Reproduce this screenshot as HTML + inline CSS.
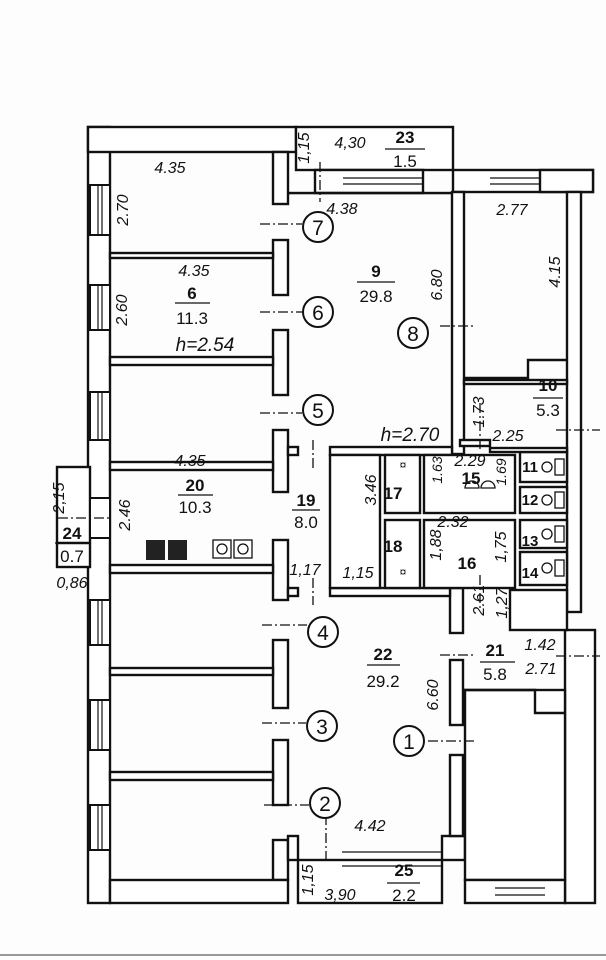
<!DOCTYPE html>
<html><head><meta charset="utf-8"><style>
html,body{margin:0;padding:0;background:#fff}
svg{display:block}
text{font-family:"Liberation Sans",sans-serif;fill:#111}
.i{font-style:italic;font-size:16px}
.b{font-size:17px;font-weight:bold}
.n{font-size:17px}
</style></head><body>
<svg width="606" height="960" viewBox="0 0 606 960" xmlns="http://www.w3.org/2000/svg">
<rect width="606" height="960" fill="#fdfdfd"/>
<g fill="#fff" stroke="#111" stroke-width="2.4">
<rect x="88" y="127" width="22" height="776"/>
<rect x="88" y="127" width="208" height="25"/>
<rect x="296" y="127" width="157" height="43"/>
<rect x="315" y="170" width="108" height="23"/>
<rect x="287" y="193" width="165" height="0.1"/>
<rect x="453" y="170" width="140" height="22"/>
<rect x="540" y="170" width="53" height="22"/>
<rect x="567" y="192" width="14" height="420"/>
<rect x="565" y="630" width="30" height="273"/>
<rect x="452" y="192" width="12" height="262"/>
<rect x="273" y="152" width="15" height="52"/>
<rect x="273" y="240" width="15" height="55"/>
<rect x="273" y="330" width="15" height="65"/>
<rect x="273" y="430" width="15" height="62"/>
<rect x="273" y="540" width="15" height="60"/>
<rect x="273" y="640" width="15" height="68"/>
<rect x="273" y="740" width="15" height="65"/>
<rect x="273" y="840" width="15" height="40"/>
<rect x="288" y="836" width="10" height="24"/>
<rect x="442" y="836" width="23" height="24"/>
<rect x="298" y="860" width="144" height="43"/>
<rect x="450" y="588" width="13" height="45"/>
<rect x="450" y="660" width="13" height="65"/>
<rect x="450" y="755" width="13" height="81"/>
<rect x="465" y="690" width="100" height="190"/>
<rect x="465" y="880" width="100" height="23"/>
<rect x="110" y="253" width="163" height="5"/>
<rect x="110" y="357" width="163" height="8"/>
<rect x="110" y="462" width="163" height="8"/>
<rect x="110" y="565" width="163" height="8"/>
<rect x="110" y="668" width="163" height="7"/>
<rect x="110" y="772" width="163" height="8"/>
<rect x="110" y="880" width="178" height="23"/>
<rect x="57" y="467" width="33" height="100"/>
<line x1="57" y1="543" x2="90" y2="543"/>
<rect x="288" y="447" width="10" height="8"/>
<rect x="330" y="447" width="122" height="8"/>
<rect x="288" y="588" width="10" height="8"/>
<rect x="330" y="588" width="120" height="8"/>
<rect x="330" y="455" width="50" height="133"/>
<rect x="385" y="455" width="35" height="58"/>
<rect x="385" y="520" width="35" height="68"/>
<rect x="424" y="455" width="91" height="58"/>
<rect x="424" y="520" width="91" height="68"/>
<rect x="520" y="452" width="47" height="30"/>
<rect x="520" y="487" width="47" height="26"/>
<rect x="520" y="520" width="47" height="28"/>
<rect x="520" y="552" width="47" height="33"/>
<rect x="464" y="380" width="103" height="4"/>
<polyline points="464,378 528,378 528,360 567,360" fill="none"/>
<polyline points="464,690 535,690 535,713 565,713" fill="none"/>
<rect x="510" y="590" width="57" height="40"/>
<rect x="460" y="440" width="30" height="6"/>
<rect x="490" y="448" width="77" height="4"/>
</g>
<g stroke="#111" stroke-width="1.3">
<line x1="343" y1="178" x2="423" y2="178"/><line x1="343" y1="184" x2="423" y2="184"/>
<line x1="490" y1="178" x2="540" y2="178"/><line x1="490" y1="184" x2="540" y2="184"/>
<line x1="342" y1="866" x2="442" y2="866"/><line x1="342" y1="852" x2="442" y2="852"/>
<line x1="495" y1="888" x2="545" y2="888"/><line x1="495" y1="895" x2="545" y2="895"/>
</g>
<g fill="#fff" stroke="#111" stroke-width="2">
<rect x="90" y="185" width="20" height="50"/>
<rect x="90" y="285" width="20" height="45"/>
<rect x="90" y="392" width="20" height="48"/>
<rect x="90" y="498" width="20" height="40"/>
<rect x="90" y="600" width="20" height="45"/>
<rect x="90" y="700" width="20" height="50"/>
<rect x="90" y="805" width="20" height="45"/>
</g>
<g stroke="#111" stroke-width="1.2">
<line x1="98" y1="185" x2="98" y2="235"/><line x1="102" y1="185" x2="102" y2="235"/>
<line x1="98" y1="285" x2="98" y2="330"/><line x1="102" y1="285" x2="102" y2="330"/>
<line x1="98" y1="392" x2="98" y2="440"/><line x1="102" y1="392" x2="102" y2="440"/>
<line x1="98" y1="600" x2="98" y2="645"/><line x1="102" y1="600" x2="102" y2="645"/>
<line x1="98" y1="700" x2="98" y2="750"/><line x1="102" y1="700" x2="102" y2="750"/>
<line x1="98" y1="805" x2="98" y2="850"/><line x1="102" y1="805" x2="102" y2="850"/>
</g>
<g stroke="#111" stroke-width="1.3" stroke-dasharray="10,3,2,3" fill="none">
<line x1="260" y1="224" x2="302" y2="224"/>
<line x1="260" y1="312" x2="302" y2="312"/>
<line x1="260" y1="413" x2="302" y2="413"/>
<line x1="262" y1="625" x2="307" y2="625"/>
<line x1="262" y1="723" x2="306" y2="723"/>
<line x1="264" y1="805" x2="309" y2="805"/>
<line x1="428" y1="741" x2="475" y2="741"/>
<line x1="440" y1="326" x2="475" y2="326"/>
<line x1="320" y1="162" x2="320" y2="202"/>
<line x1="313" y1="440" x2="313" y2="470"/>
<line x1="313" y1="578" x2="313" y2="605"/>
<line x1="326" y1="815" x2="326" y2="860"/>
<line x1="480" y1="403" x2="480" y2="450"/>
<line x1="480" y1="575" x2="480" y2="610"/>
<line x1="440" y1="655" x2="475" y2="655"/>
<line x1="556" y1="430" x2="600" y2="430"/>
<line x1="556" y1="656" x2="600" y2="656"/>
<line x1="58" y1="518" x2="110" y2="518"/>
</g>
<g fill="#fff" stroke="#111" stroke-width="2">
<circle cx="318" cy="227" r="15"/><circle cx="318" cy="312" r="15"/><circle cx="318" cy="410" r="15"/>
<circle cx="413" cy="333" r="15"/><circle cx="323" cy="632" r="15"/><circle cx="322" cy="726" r="15"/>
<circle cx="325" cy="803" r="15"/><circle cx="409" cy="741" r="15"/>
</g>
<g text-anchor="middle" style="font-size:21px">
<text x="318" y="235">7</text><text x="318" y="320">6</text>
<text x="318" y="418">5</text><text x="413" y="341">8</text>
<text x="323" y="640">4</text><text x="322" y="734">3</text>
<text x="325" y="811">2</text><text x="409" y="749">1</text>
</g>
<rect x="146" y="540" width="19" height="20" fill="#222"/><rect x="168" y="540" width="19" height="20" fill="#222"/>
<g fill="#fff" stroke="#111" stroke-width="1.3"><rect x="213" y="540" width="18" height="18"/><rect x="234" y="540" width="18" height="18"/>
<circle cx="222" cy="549" r="5"/><circle cx="243" cy="549" r="5"/>
<path d="M465,488 a7,7 0 0 1 14,0 z"/><path d="M481,488 a7,7 0 0 1 14,0 z"/>
<circle cx="547" cy="467" r="5"/><circle cx="547" cy="500" r="5"/><circle cx="547" cy="534" r="5"/><circle cx="547" cy="568" r="5"/>
<rect x="555" y="459" width="9" height="16"/><rect x="555" y="492" width="9" height="16"/><rect x="555" y="526" width="9" height="16"/><rect x="555" y="560" width="9" height="16"/>
</g>
<text x="403" y="469" font-size="12" text-anchor="middle">¤</text>
<text x="403" y="576" font-size="12" text-anchor="middle">¤</text>
<g stroke="#111" stroke-width="1.3">
<line x1="175" y1="303" x2="210" y2="303"/><line x1="385" y1="149" x2="425" y2="149"/>
<line x1="357" y1="282" x2="395" y2="282"/><line x1="533" y1="398" x2="563" y2="398"/>
<line x1="178" y1="495" x2="213" y2="495"/><line x1="292" y1="510" x2="320" y2="510"/>
<line x1="55" y1="543" x2="90" y2="543"/><line x1="367" y1="665" x2="400" y2="665"/>
<line x1="480" y1="662" x2="515" y2="662"/><line x1="387" y1="883" x2="420" y2="883"/>
</g>
<g class="i" text-anchor="middle">
<text x="170" y="173">4.35</text>
<text x="194" y="276">4.35</text>
<text x="205" y="351" style="font-size:19px">h=2.54</text>
<text x="350" y="148">4,30</text>
<text x="342" y="214">4.38</text>
<text x="410" y="441" style="font-size:19px">h=2.70</text>
<text x="512" y="215">2.77</text>
<text x="508" y="441">2.25</text>
<text x="470" y="466">2.29</text>
<text x="453" y="527">2.32</text>
<text x="305" y="575">1,17</text>
<text x="358" y="578">1,15</text>
<text x="190" y="466">4.35</text>
<text x="72" y="588">0,86</text>
<text x="540" y="650">1.42</text>
<text x="541" y="674">2.71</text>
<text x="370" y="831">4.42</text>
<text x="340" y="900">3,90</text>
<text transform="translate(128,210) rotate(-90)">2.70</text>
<text transform="translate(127,310) rotate(-90)">2.60</text>
<text transform="translate(309,148) rotate(-90)">1,15</text>
<text transform="translate(442,285) rotate(-90)">6.80</text>
<text transform="translate(560,272) rotate(-90)">4.15</text>
<text transform="translate(484,412) rotate(-90)">1.73</text>
<text transform="translate(442,470) rotate(-90)" style="font-size:14px">1.63</text>
<text transform="translate(506,472) rotate(-90)" style="font-size:14px">1.69</text>
<text transform="translate(376,490) rotate(-90)">3.46</text>
<text transform="translate(441,545) rotate(-90)">1,88</text>
<text transform="translate(506,547) rotate(-90)">1,75</text>
<text transform="translate(484,600) rotate(-90)">2.61</text>
<text transform="translate(507,603) rotate(-90)">1,27</text>
<text transform="translate(438,695) rotate(-90)">6.60</text>
<text transform="translate(313,880) rotate(-90)">1,15</text>
<text transform="translate(130,515) rotate(-90)">2.46</text>
<text transform="translate(64,498) rotate(-90)">2,15</text>
</g>
<g class="n" text-anchor="middle">
<text x="192" y="299" class="b">6</text><text x="192" y="324">11.3</text>
<text x="405" y="143" class="b">23</text><text x="405" y="167">1.5</text>
<text x="376" y="277" class="b">9</text><text x="376" y="302">29.8</text>
<text x="548" y="391" class="b">10</text><text x="548" y="416">5.3</text>
<text x="471" y="484" class="b">15</text>
<text x="393" y="499" class="b">17</text><text x="393" y="552" class="b">18</text>
<text x="467" y="569" class="b">16</text>
<text x="306" y="506" class="b">19</text><text x="306" y="528">8.0</text>
<text x="195" y="491" class="b">20</text><text x="195" y="513">10.3</text>
<text x="72" y="539" class="b">24</text><text x="72" y="562">0.7</text>
<text x="383" y="660" class="b">22</text><text x="383" y="687">29.2</text>
<text x="495" y="656" class="b">21</text><text x="495" y="680">5.8</text>
<text x="404" y="876" class="b">25</text><text x="404" y="901">2.2</text>
<text x="530" y="472" class="b" style="font-size:15px">11</text><text x="530" y="505" class="b" style="font-size:15px">12</text>
<text x="530" y="546" class="b" style="font-size:15px">13</text><text x="530" y="578" class="b" style="font-size:15px">14</text>
</g>
<line x1="0" y1="955" x2="606" y2="955" stroke="#999" stroke-width="2"/>
</svg>
</body></html>
